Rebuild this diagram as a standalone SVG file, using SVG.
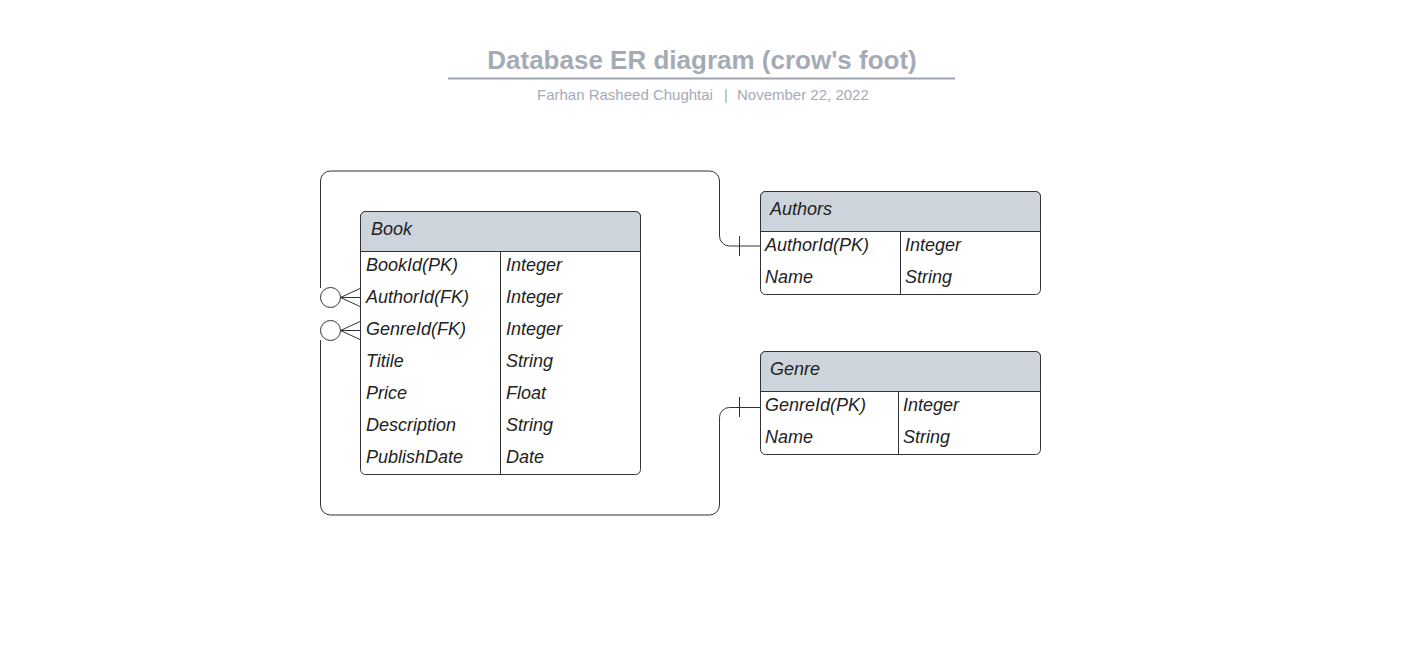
<svg xmlns="http://www.w3.org/2000/svg" width="1428" height="660" viewBox="0 0 1428 660">
<style>
.title{font-family:"Liberation Sans",Arial,sans-serif;font-size:26px;font-weight:bold;fill:#a5abb6}
.sub{font-family:"Liberation Sans",Arial,sans-serif;font-size:15px;fill:#a5abb6}
.t{font-family:"Liberation Sans",Arial,sans-serif;font-size:18px;font-style:italic;fill:#222}
.box{fill:#fff;stroke:#333;stroke-width:1}
.hdr{fill:#ced4db;stroke:#333;stroke-width:1}
.ln{fill:none;stroke:#333;stroke-width:1}
.conn{fill:none;stroke:#333;stroke-width:1}
</style>
<rect width="1428" height="660" fill="#fff"/>
<g id="title">
<text class="title" x="702" y="69" text-anchor="middle">Database ER diagram (crow's foot)</text>
<line x1="448" y1="78.5" x2="955" y2="78.5" stroke="#9ea4ae" stroke-width="2"/>
<text class="sub" x="537" y="100">Farhan Rasheed Chughtai</text>
<text class="sub" x="726" y="100" text-anchor="middle">|</text>
<text class="sub" x="737" y="100">November 22, 2022</text>
</g>
<g id="connectors">
<path class="conn" d="M320.5,288 V181 A10,10 0 0 1 330.5,171 H709.5 A10,10 0 0 1 719.5,181 V236 A10,10 0 0 0 729.5,246 H760"/>
<line class="conn" x1="739.5" y1="236" x2="739.5" y2="256"/>
<circle class="conn" cx="330.5" cy="297.5" r="10"/>
<path class="conn" d="M360,288.5 L340.5,297.5 L360,306.5 M340.5,297.5 H360"/>
<path class="conn" d="M320.5,340 V505 A10,10 0 0 0 330.5,515 H709.5 A10,10 0 0 0 719.5,505 V417.5 A10,10 0 0 1 729.5,407.5 H760"/>
<line class="conn" x1="739.5" y1="397" x2="739.5" y2="417"/>
<circle class="conn" cx="330.5" cy="330.5" r="10"/>
<path class="conn" d="M360,321.5 L340.5,330.5 L360,339.5 M340.5,330.5 H360"/>
</g>
<g id="book">
<rect class="box" x="360.5" y="211.5" width="280" height="263" rx="5"/>
<path class="hdr" d="M360.5,251.5 V216.5 A5,5 0 0 1 365.5,211.5 H635.5 A5,5 0 0 1 640.5,216.5 V251.5 Z"/>
<line class="ln" x1="500.5" y1="251.5" x2="500.5" y2="474.5"/>
<text class="t" x="371" y="235">Book</text>
<text class="t" x="366" y="271">BookId(PK)</text>
<text class="t" x="366" y="303">AuthorId(FK)</text>
<text class="t" x="366" y="335">GenreId(FK)</text>
<text class="t" x="366" y="367">Titile</text>
<text class="t" x="366" y="399">Price</text>
<text class="t" x="366" y="431">Description</text>
<text class="t" x="366" y="463">PublishDate</text>
<text class="t" x="506" y="271">Integer</text>
<text class="t" x="506" y="303">Integer</text>
<text class="t" x="506" y="335">Integer</text>
<text class="t" x="506" y="367">String</text>
<text class="t" x="506" y="399">Float</text>
<text class="t" x="506" y="431">String</text>
<text class="t" x="506" y="463">Date</text>
</g>
<g id="authors">
<rect class="box" x="760.5" y="191.5" width="280" height="103" rx="5"/>
<path class="hdr" d="M760.5,231.5 V196.5 A5,5 0 0 1 765.5,191.5 H1035.5 A5,5 0 0 1 1040.5,196.5 V231.5 Z"/>
<line class="ln" x1="900.5" y1="231.5" x2="900.5" y2="294.5"/>
<text class="t" x="770" y="215">Authors</text>
<text class="t" x="765" y="251">AuthorId(PK)</text>
<text class="t" x="765" y="283">Name</text>
<text class="t" x="905" y="251">Integer</text>
<text class="t" x="905" y="283">String</text>
</g>
<g id="genre">
<rect class="box" x="760.5" y="351.5" width="280" height="103" rx="5"/>
<path class="hdr" d="M760.5,391.5 V356.5 A5,5 0 0 1 765.5,351.5 H1035.5 A5,5 0 0 1 1040.5,356.5 V391.5 Z"/>
<line class="ln" x1="898.5" y1="391.5" x2="898.5" y2="454.5"/>
<text class="t" x="770" y="375">Genre</text>
<text class="t" x="765" y="411">GenreId(PK)</text>
<text class="t" x="765" y="443">Name</text>
<text class="t" x="903" y="411">Integer</text>
<text class="t" x="903" y="443">String</text>
</g>
</svg>
